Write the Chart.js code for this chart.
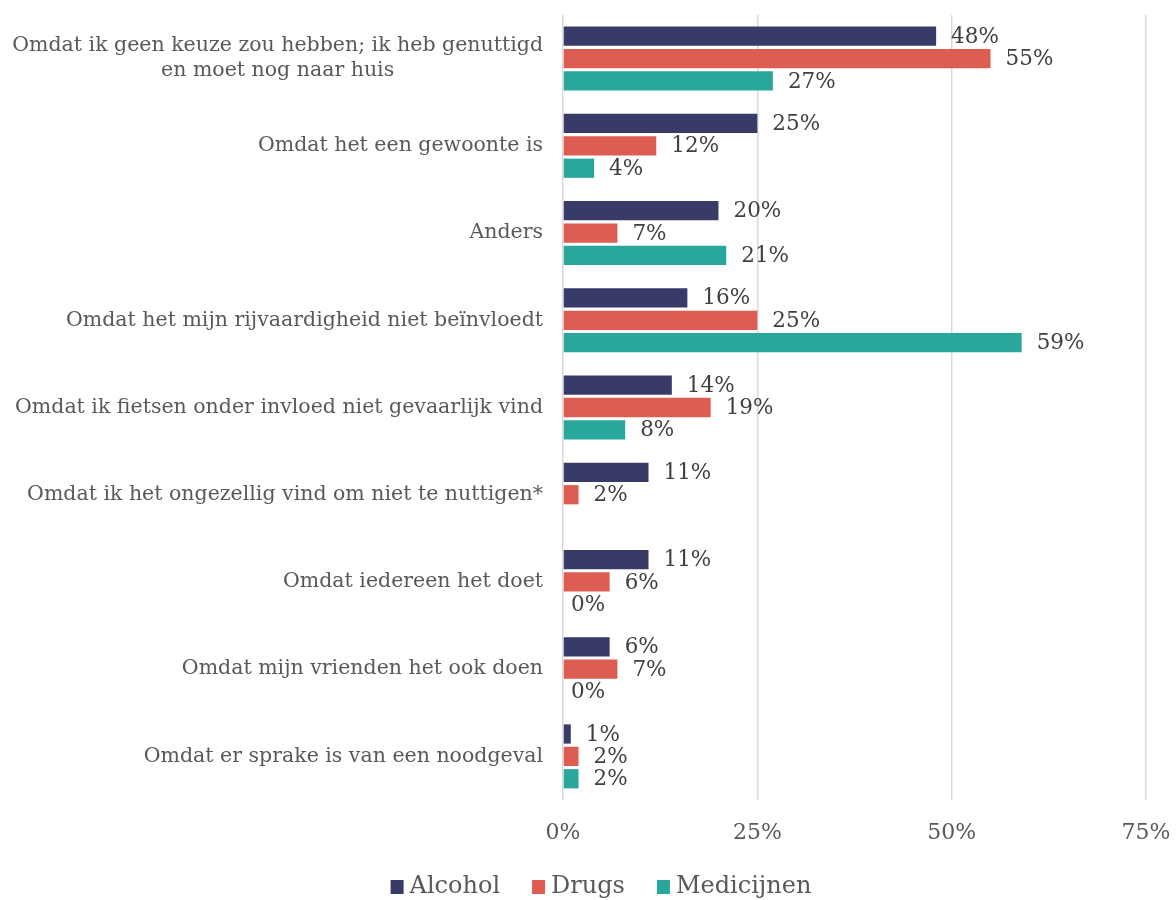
<!DOCTYPE html>
<html>
<head>
<meta charset="utf-8">
<script src="https://cdn.jsdelivr.net/npm/chart.js@4"></script>
<style>
  html, body { margin: 0; padding: 0; background: #fff; }
  #wrap { width: 1176px; height: 900px; }
</style>
</head>
<body>
<div id="wrap"><canvas id="chart" width="1176" height="900"></canvas></div>
<script>
// --- DATA ---
const categories = [
    ['Omdat ik geen keuze zou hebben; ik heb genuttigd', 'en moet nog naar huis'],
    'Omdat het een gewoonte is',
    'Anders',
    'Omdat het mijn rijvaardigheid niet beïnvloedt',
    'Omdat ik fietsen onder invloed niet gevaarlijk vind',
    'Omdat ik het ongezellig vind om niet te nuttigen*',
    'Omdat iedereen het doet',
    'Omdat mijn vrienden het ook doen',
    'Omdat er sprake is van een noodgeval'
];
const alcohol     = [48, 25, 20, 16, 14, 11, 11, 6, 1];
const drugs       = [55, 12, 7, 25, 19, 2, 6, 7, 2];
const medicijnen  = [27, 4, 21, 59, 8, null, 0, 0, 2];
const xTicks = [0, 25, 50, 75];

const FONT = "'DejaVu Serif', serif";
const TEXT = '#595959';

// category labels on the left; wrapped lines are centred on the widest line
const categoryLabels = {
    id: 'categoryLabels',
    afterDraw(chart) {
        const ctx = chart.ctx;
        const y = chart.scales.y;
        const right = chart.chartArea.left - 20;
        ctx.save();
        ctx.font = '20.5px ' + FONT;
        ctx.fillStyle = TEXT;
        ctx.textBaseline = 'middle';
        categories.forEach((lab, i) => {
            const cy = y.getPixelForValue(i);
            if (Array.isArray(lab)) {
                const maxW = Math.max(...lab.map(l => ctx.measureText(l).width));
                const cx = right - maxW / 2;
                ctx.textAlign = 'center';
                const lh = 25;
                lab.forEach((l, j) => {
                    ctx.fillText(l, cx, cy + (j - (lab.length - 1) / 2) * lh);
                });
            } else {
                ctx.textAlign = 'right';
                ctx.fillText(lab, right, cy);
            }
        });
        ctx.restore();
    }
};

// value labels at the end of each bar
const valueLabels = {
    id: 'valueLabels',
    afterDatasetsDraw(chart) {
        const ctx = chart.ctx;
        ctx.save();
        ctx.font = '21.5px ' + FONT;
        ctx.fillStyle = '#404040';
        ctx.textAlign = 'left';
        ctx.textBaseline = 'middle';
        chart.data.datasets.forEach((ds, di) => {
            const meta = chart.getDatasetMeta(di);
            meta.data.forEach((bar, i) => {
                const v = ds.data[i];
                if (v === null || v === undefined) return;
                const off = v > 0 ? 15 : 8;
                ctx.fillText(v + '%', bar.x + off, bar.y + 1);
            });
        });
        ctx.restore();
    }
};

// legend row under the axis
const bottomLegend = {
    id: 'bottomLegend',
    afterDraw(chart) {
        const ctx = chart.ctx;
        const boxW = 13, boxH = 14, gapText = 6, gapItem = 32;
        ctx.save();
        ctx.font = '24px ' + FONT;
        ctx.textBaseline = 'middle';
        ctx.textAlign = 'left';
        const items = chart.data.datasets.map(ds => ({
            text: ds.label, color: ds.backgroundColor, w: ctx.measureText(ds.label).width
        }));
        const total = items.reduce((s, it) => s + boxW + gapText + it.w, 0) + gapItem * (items.length - 1);
        let x = 601 - total / 2;
        const cy = 887;
        items.forEach(it => {
            ctx.fillStyle = it.color;
            ctx.fillRect(x, cy - boxH / 2, boxW, boxH);
            x += boxW + gapText;
            ctx.fillStyle = TEXT;
            ctx.fillText(it.text, x, cy);
            x += it.w + gapItem;
        });
        ctx.restore();
    }
};

new Chart(document.getElementById('chart').getContext('2d'), {
    type: 'bar',
    data: {
        labels: categories.map((c, i) => i),
        datasets: [
            { label: 'Alcohol', data: alcohol, backgroundColor: '#383b68' },
            { label: 'Drugs', data: drugs, backgroundColor: '#de5d52' },
            { label: 'Medicijnen', data: medicijnen, backgroundColor: '#2aa79c' }
        ]
    },
    options: {
        indexAxis: 'y',
        responsive: false,
        animation: false,
        categoryPercentage: 0.77,
        barPercentage: 0.86,
        layout: { padding: { top: 15, right: 30, bottom: 50, left: 0 } },
        plugins: {
            legend: { display: false },
            tooltip: { enabled: false }
        },
        scales: {
            x: {
                min: 0,
                max: 75,
                afterBuildTicks(scale) {
                    scale.ticks = xTicks.map(v => ({ value: v }));
                },
                afterFit(scale) {
                    scale.height = 50;
                    scale.paddingRight = 0;
                    scale.paddingLeft = 0;
                },
                grid: { color: '#d9d9d9', lineWidth: 1.5, drawTicks: false },
                border: { display: false },
                ticks: {
                    padding: 20,
                    color: TEXT,
                    font: { family: FONT, size: 22 },
                    callback: v => v + '%'
                }
            },
            y: {
                grid: { display: false },
                border: { display: false },
                ticks: { display: false },
                afterFit(scale) { scale.width = 563; }
            }
        }
    },
    plugins: [categoryLabels, valueLabels, bottomLegend]
});
</script>
</body>
</html>
